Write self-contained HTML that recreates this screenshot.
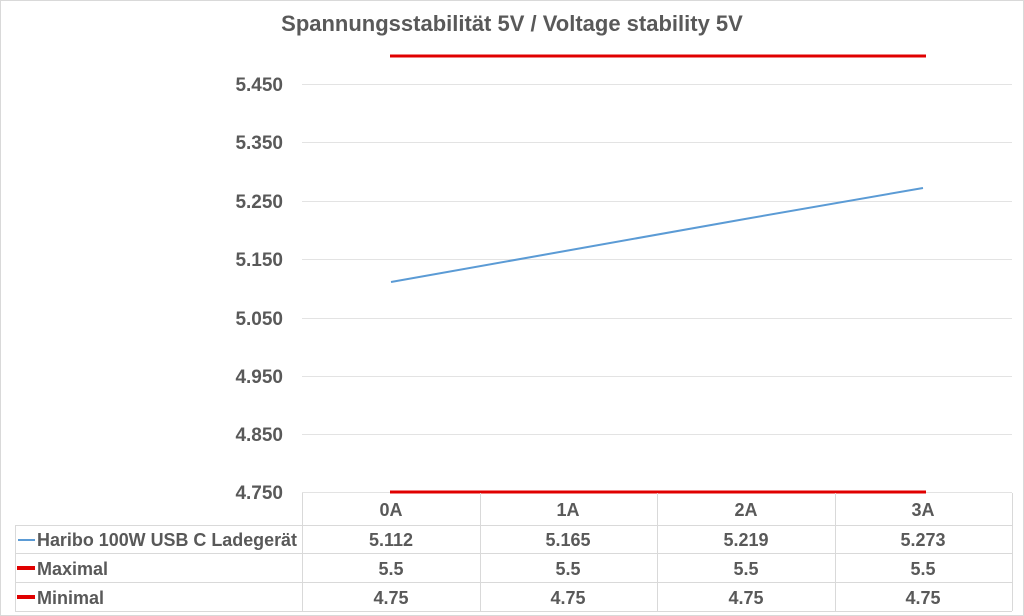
<!DOCTYPE html>
<html><head><meta charset="utf-8"><style>
html,body{margin:0;padding:0;background:#fff}
svg{display:block;font-family:"Liberation Sans",sans-serif;font-weight:bold;fill:#595959}
</style></head><body>
<svg width="1024" height="616" viewBox="0 0 1024 616">
<rect x="0.5" y="0.5" width="1023" height="615" fill="#fff" stroke="#d9d9d9"/>
<text x="512" y="31" text-anchor="middle" font-size="22" font-weight="bold">Spannungsstabilität 5V / Voltage stability 5V</text>
<g stroke="#e3e3e3" stroke-width="1">
<line x1="302" y1="84.5" x2="1012" y2="84.5"/>
<line x1="302" y1="142.5" x2="1012" y2="142.5"/>
<line x1="302" y1="201.5" x2="1012" y2="201.5"/>
<line x1="302" y1="259.5" x2="1012" y2="259.5"/>
<line x1="302" y1="318.5" x2="1012" y2="318.5"/>
<line x1="302" y1="376.5" x2="1012" y2="376.5"/>
<line x1="302" y1="434.5" x2="1012" y2="434.5"/>
<line x1="302" y1="492.5" x2="1012" y2="492.5"/>
</g>
<g font-size="19" text-anchor="end">
<text x="283" y="91">5.450</text>
<text x="283" y="149">5.350</text>
<text x="283" y="208">5.250</text>
<text x="283" y="266">5.150</text>
<text x="283" y="325">5.050</text>
<text x="283" y="383">4.950</text>
<text x="283" y="441">4.850</text>
<text x="283" y="499">4.750</text>
</g>
<line x1="390" y1="56" x2="926" y2="56" stroke="#e00000" stroke-width="3"/>
<line x1="390" y1="492" x2="926" y2="492" stroke="#e00000" stroke-width="3"/>
<polyline points="391,282 568,250.5 745,219 923,188" fill="none" stroke="#5b9bd5" stroke-width="2"/>
<g stroke="#d9d9d9" stroke-width="1" fill="none">
<line x1="302.5" y1="493" x2="302.5" y2="611"/>
<line x1="480.5" y1="493" x2="480.5" y2="611"/>
<line x1="657.5" y1="493" x2="657.5" y2="611"/>
<line x1="835.5" y1="493" x2="835.5" y2="611"/>
<line x1="1012.5" y1="493" x2="1012.5" y2="611"/>
<line x1="15.5" y1="525" x2="15.5" y2="611"/>
<line x1="15" y1="525.5" x2="1012" y2="525.5"/>
<line x1="15" y1="553.5" x2="1012" y2="553.5"/>
<line x1="15" y1="582.5" x2="1012" y2="582.5"/>
<line x1="15" y1="611.5" x2="1012" y2="611.5"/>
</g>
<line x1="18" y1="540" x2="35" y2="540" stroke="#5b9bd5" stroke-width="2"/>
<line x1="17" y1="568" x2="35" y2="568" stroke="#e00000" stroke-width="4"/>
<line x1="17" y1="597" x2="35" y2="597" stroke="#e00000" stroke-width="4"/>
<g font-size="18" textLength="">
<text x="37" y="546" textLength="260" lengthAdjust="spacingAndGlyphs">Haribo 100W USB C Ladegerät</text>
<text x="37" y="575">Maximal</text>
<text x="37" y="604">Minimal</text>
</g>
<g font-size="18" text-anchor="middle">
<text x="391" y="516">0A</text><text x="568" y="516">1A</text><text x="746" y="516">2A</text><text x="923" y="516">3A</text>
<text x="391" y="546">5.112</text><text x="568" y="546">5.165</text><text x="746" y="546">5.219</text><text x="923" y="546">5.273</text>
<text x="391" y="575">5.5</text><text x="568" y="575">5.5</text><text x="746" y="575">5.5</text><text x="923" y="575">5.5</text>
<text x="391" y="604">4.75</text><text x="568" y="604">4.75</text><text x="746" y="604">4.75</text><text x="923" y="604">4.75</text>
</g>
</svg>
</body></html>
